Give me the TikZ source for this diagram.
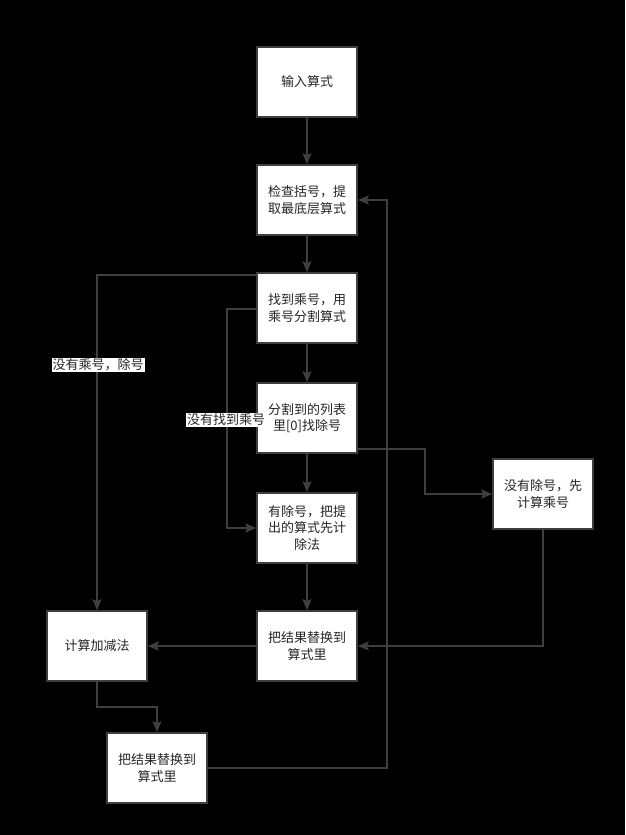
\documentclass[tikz,border=0pt]{standalone}
\usepackage{fontspec}
\setmainfont{Noto Sans CJK SC}
\usetikzlibrary{arrows.meta}
\definecolor{ln}{HTML}{3F3F3F}
\tikzset{
  box/.style={draw=ln, line width=1.6pt, fill=white, minimum width=100pt, minimum height=70pt,
    inner sep=0pt, align=center, font=\fontsize{13pt}{16.5pt}\selectfont, text=black!85},
  conn/.style={draw=ln, line width=1.6pt, -{Stealth[length=11pt,width=9pt,inset=2pt]}},
  lab/.style={fill=white, inner sep=1pt, font=\fontsize{13pt}{15pt}\selectfont, text=black!85}
}
\begin{document}
\begin{tikzpicture}[x=1pt,y=-1pt]
\fill[black] (0,0) rectangle (625,835);
\useasboundingbox (0,0) rectangle (625,835);
\node[box] (b1) at (307,82) {输入算式};
\node[box] (b2) at (307,200) {检查括号，提\\取最底层算式};
\node[box] (b3) at (307,308) {找到乘号，用\\乘号分割算式};
\node[box] (b4) at (307,418) {分割到的列表\\里[0]找除号};
\node[box] (b5) at (307,528) {有除号，把提\\出的算式先计\\除法};
\node[box] (b6) at (543,494) {没有除号，先\\计算乘号};
\node[box] (b7) at (307,646) {把结果替换到\\算式里};
\node[box] (b8) at (97,646) {计算加减法};
\node[box] (b9) at (157,768) {把结果替换到\\算式里};
\coordinate (c1) at (97,275);
\coordinate (c2) at (227,309);
\coordinate (c3) at (227,528);
\coordinate (c4) at (425,449);
\coordinate (c5) at (425,494);
\coordinate (c6) at (543,646);
\coordinate (c7) at (97,707);
\coordinate (c8) at (157,707);
\coordinate (c9) at (387,768);
\coordinate (c10) at (387,200);
\draw[conn] (b1) -- (b2);
\draw[conn] (b2) -- (b3);
\draw[conn] (b3) -- (b4);
\draw[conn] (b4) -- (b5);
\draw[conn] (b5) -- (b7);
\draw[conn] (b7) -- (b8);
\draw[conn] (b3.west |- c1) -- (c1) -- (b8.north);
\draw[conn] (b3.west |- c2) -- (c2) -- (c3) -- (b5.west);
\draw[conn] (b4.east |- c4) -- (c4) -- (c5) -- (b6.west);
\draw[conn] (b6.south) -- (c6) -- (b7.east);
\draw[conn] (b8.south) -- (c7) -- (c8) -- (b9.north);
\draw[conn] (b9.east) -- (c9) -- (c10) -- (b2.east);
\node[lab] (l1) at (98,365) {没有乘号，除号};
\node[lab] (l2) at (226,420) {没有找到乘号};
\end{tikzpicture}
\end{document}
